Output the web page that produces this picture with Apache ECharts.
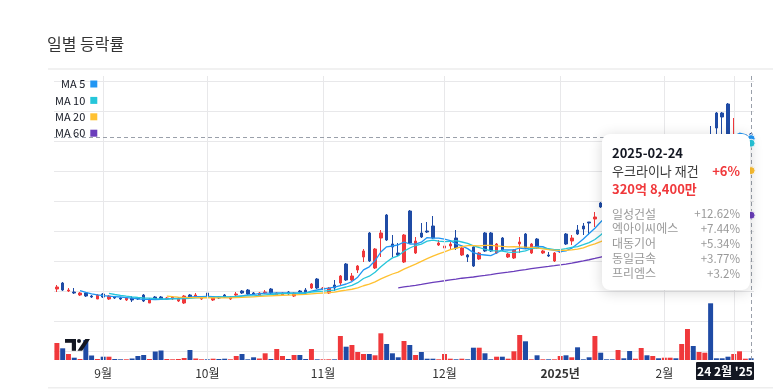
<!DOCTYPE html>
<html><head><meta charset="utf-8">
<script src="https://cdn.jsdelivr.net/npm/echarts/dist/echarts.min.js"></script>
<style>html,body{margin:0;padding:0;background:#fff}#c{width:773px;height:390px}</style>
</head><body><div id="c"></div>
<script>
const FONT = '"Noto Sans CJK KR","Noto Sans",sans-serif';
const UP = '#f0383b', DOWN = '#1f4ba5', GRIDC = '#e8e8ea';

const dates = [
'2024-08-21','2024-08-22','2024-08-23','2024-08-26','2024-08-27','2024-08-28','2024-08-29','2024-08-30',
'2024-09-02','2024-09-03','2024-09-04','2024-09-05','2024-09-06','2024-09-09','2024-09-10','2024-09-11','2024-09-12','2024-09-13','2024-09-19','2024-09-20','2024-09-23','2024-09-24','2024-09-25','2024-09-26','2024-09-27','2024-09-30',
'2024-10-02','2024-10-04','2024-10-07','2024-10-08','2024-10-10','2024-10-11','2024-10-14','2024-10-15','2024-10-16','2024-10-17','2024-10-18','2024-10-21','2024-10-22','2024-10-23','2024-10-24','2024-10-25','2024-10-28','2024-10-29','2024-10-30','2024-10-31',
'2024-11-01','2024-11-04','2024-11-05','2024-11-06','2024-11-07','2024-11-08','2024-11-11','2024-11-12','2024-11-13','2024-11-14','2024-11-15','2024-11-18','2024-11-19','2024-11-20','2024-11-21','2024-11-22','2024-11-25','2024-11-26','2024-11-27','2024-11-28','2024-11-29',
'2024-12-02','2024-12-03','2024-12-04','2024-12-05','2024-12-06','2024-12-09','2024-12-10','2024-12-11','2024-12-12','2024-12-13','2024-12-16','2024-12-17','2024-12-18','2024-12-19','2024-12-20','2024-12-23','2024-12-24','2024-12-26','2024-12-27','2024-12-30',
'2025-01-02','2025-01-03','2025-01-06','2025-01-07','2025-01-08','2025-01-09','2025-01-10','2025-01-13','2025-01-14','2025-01-15','2025-01-16','2025-01-17','2025-01-20','2025-01-21','2025-01-22','2025-01-23','2025-01-24','2025-01-31',
'2025-02-03','2025-02-04','2025-02-05','2025-02-06','2025-02-07','2025-02-10','2025-02-11','2025-02-12','2025-02-13','2025-02-14','2025-02-17','2025-02-18','2025-02-19','2025-02-20','2025-02-21','2025-02-24'];

const openV = [
62,68,60,59,56,58,55,52,57,52, 54,53,51,53,53,56,48,54,54,52,
52,50,48,56,54,52,58,51,54,56, 52,56,60,61,58,55,58,62,56,56,
59,55,60,61,63,72,62,58,66,68, 87,71,81,94,118,83,113,136,107,98,
89,140,98,118,120,125,106,103,105,113, 96,96,104,92,118,118,98,113,94,93,
107,117,98,112,98,96,90,99,117,110, 121,125,129,132,148,147,148,141,152,151,
141,147,156,145,152,146,147,152,146,156, 171,158,179,211,238,238,247,206,198,207,217];
const closeV = [
64,61,61,58,58,55,54,56,54,55, 53,52,53,51,52,50,52,52,52,53,
54,53,55,54,56,54,54,54,53,54, 54,57,58,57,57,58,59,58,58,58,
57,58,59,58,67,63,63,63,63,75, 71,75,85,100,90,102,118,111,104,96,
116,108,110,114,119,113,108,105,107,103, 103,94,85,98,100,100,107,101,97,101,
109,103,107,103,100,95,98,101,107,113, 117,122,128,134,144,145,144,151,148,143,
155,155,148,151,147,149,151,146,156,169, 158,180,190,189,223,234,211,216,205,216,214];
const lowV = [
59,60,59,57,55,54,53,52,53,51, 52,51,50,49,51,49,48,51,51,51,
51,49,47,53,53,51,53,50,52,53, 51,55,57,56,56,54,57,57,55,55,
56,54,58,57,62,62,61,57,60,65, 70,70,78,89,89,82,94,110,94,95,
88,107,97,113,118,112,105,102,101,101, 95,89,84,91,99,99,97,100,93,92,
98,102,97,102,97,94,89,98,106,106, 116,116,116,124,143,143,142,139,146,141,
140,145,146,143,145,144,145,144,144,154, 155,156,177,185,213,215,208,203,196,205,212];
const highV = [
66,69,63,63,59,59,56,57,58,56, 55,54,54,55,54,57,53,55,55,54,
55,54,56,57,58,55,59,55,55,57, 55,59,61,62,59,59,61,63,59,59,
60,59,61,63,68,73,64,64,71,76, 88,78,86,102,119,103,121,137,116,108,
117,141,114,128,129,135,111,106,109,121, 104,97,105,99,119,119,108,114,98,102,
114,118,108,113,101,99,99,102,118,116, 126,128,129,139,149,149,150,153,154,153,
157,158,158,153,154,151,153,154,158,173, 174,182,192,225,239,239,248,233,210,217,218];
const volume = [
17,11.7,6,2.3,1,20,4.5,1,3.3,3.3, 1,0.7,0.7,1.5,4,5,1,8.5,9.5,1,
0.7,1,2,10,1.5,0.7,0.7,1.3,1,1.3, 0.7,4,6,0.7,2.7,1.5,6.7,1,11,4,
1,5,5,1,11,0.7,0.7,0.7,0.7,24, 13.3,15,8,6,6,4.7,26.7,16,6.7,2.7,
19,15,5,8,1.3,1.3,0.7,6,1.3,0.7, 1.3,0.7,12.3,12.3,6.7,0.7,3.3,3.3,1.3,8.7,
25,18.7,0.7,4.7,0.7,0.7,0.7,4,4.7,2.7, 12.7,0.7,2.7,24,7.3,0.7,0.7,10,1.7,9,
1.3,12,4.7,4,1.7,2.3,2.3,1.7,16,31, 14,8,7.3,56.7,1.7,1.7,3.3,6,8.7,1.3,1.7];

const tickLabels = {'2024-09-02':'9월','2024-10-02':'10월','2024-11-01':'11월','2024-12-02':'12월','2025-01-02':'2025년','2025-02-03':'2월'};
const gridDates = ['2024-09-02','2024-10-02','2024-11-01','2024-12-02','2025-01-02','2025-02-03','2025-02-19'];
const maNames = ['MA 5','MA 10','MA 20','MA 60'];
const maPeriods = [5,10,20,60];
const maColors = ['#2196f3','#26c6da','#ffc131','#6a3dbb'];

const tipDate = '2025-02-24';
const tipTheme = '우크라이나 재건';
const tipChange = '+6%';
const tipAmount = '320억 8,400만';
const topStocks = ['일성건설','엑아이씨에스','대동기어','동일금속','프리엠스'];
const topChanges = ['+12.62%','+7.44%','+5.34%','+3.77%','+3.2%'];

function calcMA(n){
  const out=[];
  for(let i=0;i<closeV.length;i++){
    if(i<n-1){out.push('-');continue;}
    let s=0; for(let j=0;j<n;j++) s+=closeV[i-j];
    out.push(+(s/n).toFixed(2));
  }
  return out;
}
const last = dates.length-1;
const maSeries = maNames.map((nm,k)=>{
  const d = calcMA(maPeriods[k]);
  return {type:'line', name:nm, xAxisIndex:0, yAxisIndex:0, data:d, showSymbol:false, symbol:'none',
    lineStyle:{color:maColors[k], width:1.3}, itemStyle:{color:maColors[k]}, z:4, silent:true,
    markPoint:{symbol:'circle', symbolSize:8, silent:true, label:{show:false},
      itemStyle:{color:maColors[k], borderColor:'#fff', borderWidth:1},
      data:[{coord:[dates[last], d[last]]}]}};
});

const chart = echarts.init(document.getElementById('c'), null, {renderer:'canvas'});
const graphic = [
  {type:'rect', shape:{x:48,y:68,width:725,height:2}, style:{fill:'#f1f1f1'}, z:100},
  {type:'rect', shape:{x:48,y:387,width:725,height:1.5}, style:{fill:'#eeeeee'}, z:100},
  // TradingView logo
  {type:'rect', shape:{x:65,y:339,width:11,height:3.8}, style:{fill:'#131722'}, z:100},
  {type:'rect', shape:{x:71.8,y:339,width:4.2,height:11.8}, style:{fill:'#131722'}, z:100},
  {type:'circle', shape:{cx:79,cy:341,r:2}, style:{fill:'#131722'}, z:100},
  {type:'polygon', shape:{points:[[77.5,350.8],[82.2,350.8],[90,339],[85.3,339]]}, style:{fill:'#131722'}, z:100},
  // crosshair time label
  {type:'rect', shape:{x:696,y:362,width:58,height:18,r:1}, style:{fill:'#131722'}, z:100},
  {type:'text', x:725, y:371, style:{text:"24 2월 '25", fill:'#fff', font:'bold 12px '+FONT, align:'center', verticalAlign:'middle'}, z:101},
  // tooltip
  {type:'rect', shape:{x:602,y:134,width:148,height:156,r:8},
    style:{fill:'#fff', shadowBlur:14, shadowColor:'rgba(0,0,0,0.16)', shadowOffsetY:2}, z:100},
  {type:'text', x:612, y:153, style:{text:tipDate, fill:'#131722', font:'bold 13px '+FONT, verticalAlign:'middle'}, z:101},
  {type:'text', x:612, y:171, style:{text:tipTheme, fill:'#3a3a3a', font:'13px '+FONT, verticalAlign:'middle'}, z:101},
  {type:'text', x:740, y:171, style:{text:tipChange, fill:UP, font:'bold 13px '+FONT, align:'right', verticalAlign:'middle'}, z:101},
  {type:'text', x:612, y:189, style:{text:tipAmount, fill:UP, font:'bold 13px '+FONT, verticalAlign:'middle'}, z:101}
];
topStocks.forEach((nm,k)=>{
  const y = 214 + k*14.8;
  graphic.push({type:'text', x:612, y:y, style:{text:nm, fill:'#999', font:'12px '+FONT, verticalAlign:'middle'}, z:101});
  graphic.push({type:'text', x:740, y:y, style:{text:topChanges[k], fill:'#999', font:'11.5px '+FONT, align:'right', verticalAlign:'middle'}, z:101});
});

const option = {
  animation:false,
  backgroundColor:'#fff',
  textStyle:{fontFamily:FONT},
  title:{text:'일별 등락률', left:47, top:36, padding:0,
    textStyle:{fontFamily:FONT, fontSize:16, fontWeight:'normal', color:'#333'}},
  legend:{orient:'vertical', left:55, top:78, align:'right', icon:'rect', itemWidth:7, itemHeight:7, itemGap:4.4,
    selectedMode:false, data:maNames, padding:0,
    textStyle:{fontFamily:FONT, fontSize:11, color:'#131722', lineHeight:12}},
  grid:[{left:54,right:19,top:81,bottom:39,containLabel:false},
        {left:54,right:19,top:76,bottom:30,containLabel:false}],
  xAxis:[
    {type:'category', gridIndex:0, data:dates, boundaryGap:true, show:false},
    {type:'category', gridIndex:1, data:dates, boundaryGap:true,
      axisLine:{show:false}, axisTick:{show:false}, splitLine:{show:false},
      axisLabel:{interval:(i,v)=>tickLabels[v]!==undefined, margin:7, color:'#333', fontSize:12, fontFamily:FONT, hideOverlap:false,
        formatter:(v)=> v==='2025-01-02' ? '{b|'+tickLabels[v]+'}' : (tickLabels[v]||''),
        rich:{b:{fontWeight:'bold', fontSize:12, color:'#333', fontFamily:FONT}}}}
  ],
  yAxis:[
    {type:'value', gridIndex:0, min:0, max:270, interval:30, axisLine:{show:false}, axisTick:{show:false}, axisLabel:{show:false},
      splitLine:{show:true, lineStyle:{color:GRIDC, width:1}}},
    {type:'value', gridIndex:1, min:0, max:284, show:false, splitLine:{show:false}}
  ],
  series:[
    {type:'line', name:'grid', xAxisIndex:1, yAxisIndex:1, data:[], z:0, silent:true,
      markLine:{symbol:['none','none'], silent:true, label:{show:false}, animation:false,
        lineStyle:{color:GRIDC, type:'solid', width:1},
        data:gridDates.map(d=>({xAxis:d}))}},
    {type:'bar', name:'volume', xAxisIndex:1, yAxisIndex:1, barWidth:'86%', z:1, silent:true,
      data:volume.map((v,i)=>({value:v, itemStyle:{color: closeV[i]>=openV[i]?UP:DOWN}})),
      markLine:{symbol:['none','none'], silent:true, label:{show:false},
        lineStyle:{color:'#9aa0aa', type:[4,3], width:1},
        data:[{xAxis:tipDate}]}},
    {type:'candlestick', name:'price', xAxisIndex:0, yAxisIndex:0, barWidth:3, z:3, silent:true,
      data:dates.map((d,i)=>[openV[i],closeV[i],lowV[i],highV[i]]),
      itemStyle:{color:UP, color0:DOWN, borderColor:UP, borderColor0:DOWN, borderWidth:1},
      markLine:{symbol:['none','none'], silent:true, label:{show:false},
        lineStyle:{color:'#9aa0aa', type:[4,3], width:1},
        data:[{yAxis:closeV[last]}]}},
    ...maSeries
  ],
  graphic:graphic
};
chart.setOption(option);
</script></body></html>
